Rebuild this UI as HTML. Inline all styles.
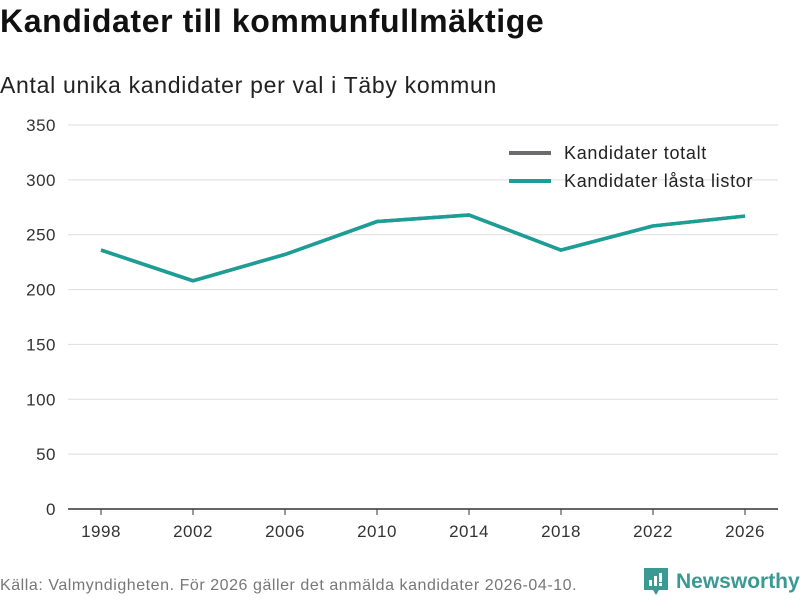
<!DOCTYPE html>
<html><head><meta charset="utf-8"><style>
body{margin:0;width:800px;height:600px;background:#fff;font-family:"Liberation Sans",sans-serif;overflow:hidden;position:relative}
#title{position:absolute;left:0;top:3px;font-size:32px;font-weight:bold;color:#111;letter-spacing:0.6px}
#subtitle{position:absolute;left:0;top:72px;font-size:23px;color:#222;letter-spacing:0.7px}
#source{position:absolute;left:0;top:577px;font-size:16px;color:#777;letter-spacing:0.55px}
#logo{position:absolute;left:644px;top:568px;display:flex;align-items:center;gap:8px;color:#3a9a93;font-size:21px;font-weight:bold}
svg{position:absolute;left:0;top:0}
</style></head><body>
<div id="title">Kandidater till kommunfullmäktige</div>
<div id="subtitle">Antal unika kandidater per val i Täby kommun</div>
<svg id="chart" width="800" height="600"></svg>
<div id="source">Källa: Valmyndigheten. För 2026 gäller det anmälda kandidater 2026-04-10.</div>
<div id="logo"><svg width="24" height="28" viewBox="0 0 24 28" style="position:static"><path d="M0 0H24V22H15L12 27L9 22H0Z" fill="#3a9a93"/><rect x="5" y="12" width="3" height="6" fill="#fff"/><rect x="10" y="8" width="3" height="10" fill="#fff"/><rect x="15" y="5" width="3" height="9" fill="#fff"/><rect x="15" y="15" width="3" height="3" fill="#fff"/></svg>Newsworthy</div>
<script>
const years=[1998,2002,2006,2010,2014,2018,2022,2026];
const totalt=[236,208,232,262,268,236,258,267];
const lasta=[236,208,232,262,268,236,258,267];
const yTicks=[0,50,100,150,200,250,300,350];
const svg=document.getElementById('chart');
const NS='http://www.w3.org/2000/svg';
const x=v=>101+(v-1998)*(644/28);
const y=v=>509-v*(384/350);
function mk(t,a){const e=document.createElementNS(NS,t);for(const k in a)e.setAttribute(k,a[k]);svg.appendChild(e);return e;}
yTicks.forEach(t=>{
 const l=mk('line',{x1:68,x2:778,y1:y(t),y2:y(t),stroke:t===0?'#333':'#ddd','stroke-width':t===0?1.5:1});
 
 
 const tx=mk('text',{x:56,y:y(t)+6,'text-anchor':'end','font-size':17,fill:'#333','font-family':'Liberation Sans, sans-serif','letter-spacing':0.5});
 tx.textContent=t;
 
 
});
years.forEach(yr=>{
 const l=mk('line',{x1:x(yr),x2:x(yr),y1:509,y2:515,stroke:'#333'});
 
 
 const tx=mk('text',{x:x(yr),y:537,'text-anchor':'middle','font-size':17,fill:'#333','font-family':'Liberation Sans, sans-serif','letter-spacing':0.5});
 tx.textContent=yr;
 
 
});
function line(vals,col,name){
 const p=mk('polyline',{points:vals.map((v,i)=>x(years[i])+','+y(v)).join(' '),fill:'none',stroke:col,'stroke-width':3.5,'stroke-linejoin':'round'});
 
 
}
line(totalt,'#6b6b70','line-kandidater-totalt');
line(lasta,'#1a9e96','line-kandidater-lasta-listor');
[['Kandidater totalt','#6b6b70',153],['Kandidater låsta listor','#1a9e96',181]].forEach(([t,c,yy])=>{
 const l=mk('line',{x1:509,x2:551,y1:yy,y2:yy,stroke:c,'stroke-width':4});
 
 
 const tx=mk('text',{x:564,y:yy+6,'font-size':18,fill:'#222','font-family':'Liberation Sans, sans-serif','letter-spacing':0.7});
 tx.textContent=t;
 
 
});
</script>
</body></html>
